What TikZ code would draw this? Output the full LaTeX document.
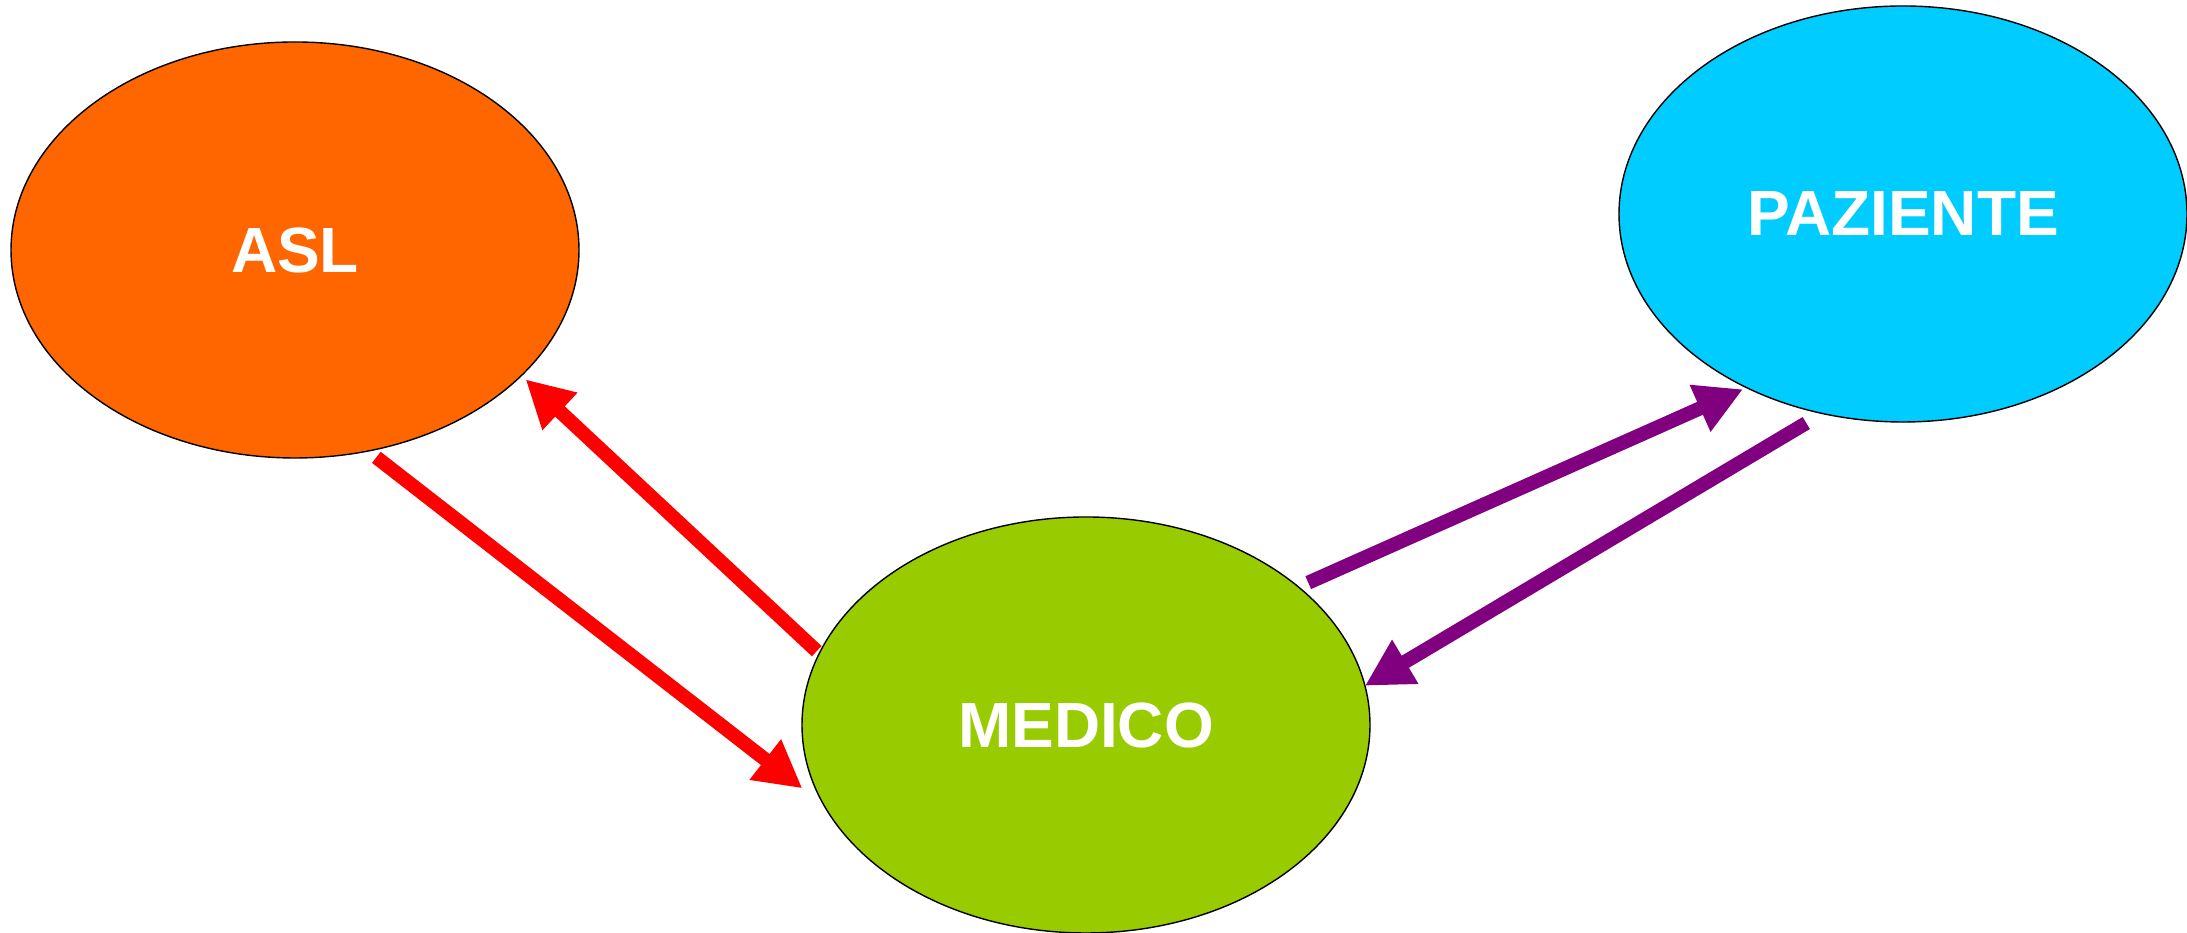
\documentclass[tikz,border=0pt]{standalone}
\usepackage{fontspec}
\setmainfont{Liberation Sans}
\usetikzlibrary{shapes.geometric,arrows.meta}
\definecolor{arancio}{HTML}{FF6600}
\definecolor{ciano}{HTML}{00CCFF}
\definecolor{verde}{HTML}{99CC00}
\definecolor{rosso}{HTML}{FF0000}
\definecolor{viola}{HTML}{800080}
\newcommand{\taillet}{\fontsize{18.2}{22}\selectfont\bfseries}
\tikzset{
  ent/.style={ellipse,draw=black,line width=0.4pt,minimum width=5.68cm,minimum height=4.16cm,
    inner sep=0pt,outer sep=0pt,text=white,font=\taillet},
  fl/.style={line width=4pt,-{Triangle[length=4.7mm,width=4.8mm]}},
}

\begin{document}
\begin{tikzpicture}
        \useasboundingbox (0,0) rectangle (21.87,9.33);
        \node[ent,fill=arancio] (asl) at (2.95,6.83) {ASL};
        \node[ent,fill=ciano] (paziente) at (19.03,7.19) {PAZIENTE};
        \node[ent,fill=verde] (medico) at (10.86,2.08) {MEDICO};
        % asl <-> medico
        \draw[fl,rosso,shorten <=1.04mm,shorten >=2.73mm] (asl.-70.9) -- (medico.197.6);
        \draw[fl,rosso,shorten <=0.35mm,shorten >=0.57mm] (medico.165.9) -- (asl.-29.8);
        % medico <-> paziente
        \draw[fl,viola,shorten <=1.07mm,shorten >=0.4mm] (medico.33.7) -- (paziente.-132.6);
        \draw[fl,viola,shorten <=1.88mm] (paziente.-112.1) -- (medico.8.06);
      \end{tikzpicture}
\end{document}
